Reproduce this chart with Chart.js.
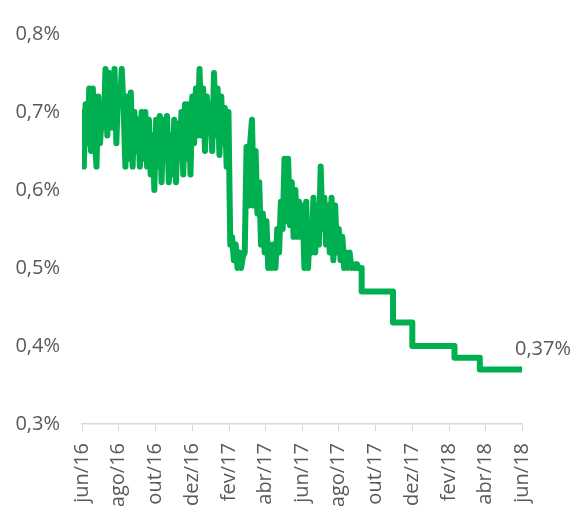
<!DOCTYPE html>
<html>
<head>
<meta charset="utf-8">
<script src="https://cdn.jsdelivr.net/npm/chart.js@4.4.1/dist/chart.umd.min.js"></script>
<style>
  html, body { margin: 0; padding: 0; background: #fff; overflow: hidden; }
</style>
</head>
<body>
<canvas id="grafico" width="575" height="506"></canvas>
<script>
// taxa diária (a cada 3 dias corridos) de jun/16 até set/17
const inicio = '2016-06-01';
const passoDias = 3;
const taxasDiarias = [
  0.70, 0.63, 0.71, 0.66, 0.73,
  0.65, 0.73, 0.67, 0.63, 0.72,
  0.66, 0.70, 0.68, 0.755, 0.67,
  0.75, 0.68, 0.70, 0.755, 0.66,
  0.73, 0.71, 0.755, 0.705, 0.63,
  0.72, 0.64, 0.725, 0.63, 0.70,
  0.65, 0.69, 0.63, 0.70, 0.64,
  0.70, 0.63, 0.69, 0.62, 0.67,
  0.60, 0.69, 0.63, 0.695, 0.61,
  0.69, 0.64, 0.695, 0.61, 0.67,
  0.62, 0.69, 0.61, 0.685, 0.64,
  0.70, 0.62, 0.71, 0.64, 0.71,
  0.62, 0.72, 0.66, 0.73, 0.67,
  0.755, 0.67, 0.73, 0.65, 0.72,
  0.68, 0.71, 0.65, 0.75, 0.67,
  0.73, 0.645, 0.72, 0.66, 0.705,
  0.63, 0.70, 0.53, 0.54, 0.51,
  0.53, 0.50, 0.52, 0.50, 0.515,
  0.52, 0.655, 0.58, 0.66, 0.69,
  0.58, 0.65, 0.57, 0.61, 0.53,
  0.57, 0.52, 0.56, 0.50, 0.53,
  0.50, 0.53, 0.50, 0.55, 0.52,
  0.585, 0.55, 0.64, 0.56, 0.64,
  0.555, 0.61, 0.54, 0.60, 0.54,
  0.585, 0.54, 0.58, 0.50, 0.585,
  0.50, 0.55, 0.52, 0.59, 0.52,
  0.58, 0.53, 0.63, 0.55, 0.59,
  0.53, 0.58, 0.52, 0.59, 0.51,
  0.58, 0.52, 0.55, 0.51, 0.54,
  0.50, 0.52, 0.50, 0.52, 0.50,
  0.505, 0.50, 0.505, 0.50
];

// degraus a partir de set/17
const datasDegraus = ['2017-09-08', '2017-10-30', '2017-12-01', '2018-02-09', '2018-03-23', '2018-06-01'];
const taxasDegraus = [0.47, 0.43, 0.40, 0.385, 0.37, 0.37];

// eixo x
const datasRotulos = ['2016-06-01', '2016-08-01', '2016-10-01', '2016-12-01', '2017-02-01', '2017-04-01',
  '2017-06-01', '2017-08-01', '2017-10-01', '2017-12-01', '2018-02-01', '2018-04-01', '2018-06-01'];
const rotulosX = ['jun/16', 'ago/16', 'out/16', 'dez/16', 'fev/17', 'abr/17',
  'jun/17', 'ago/17', 'out/17', 'dez/17', 'fev/18', 'abr/18', 'jun/18'];

const dia = (s) => (Date.parse(s) - Date.parse(inicio)) / 864e5;
const pct = (v, casas) => v.toFixed(casas).replace('.', ',') + '%';

const pontosDiarios = taxasDiarias.map((v, i) => ({ x: i * passoDias, y: v }));
// o trecho em degraus começa no último ponto diário para a linha ficar contínua
const pontosDegraus = [pontosDiarios[pontosDiarios.length - 1]]
  .concat(datasDegraus.map((d, i) => ({ x: dia(d), y: taxasDegraus[i] })));
const diasRotulos = datasRotulos.map(dia);

const verde = '#00b050';
const cinza = '#595959';
const fonte = { family: '"Open Sans", sans-serif', size: 20 };

const linha = {
  borderColor: verde,
  borderWidth: 6,
  borderJoinStyle: 'round',
  borderCapStyle: 'round',
  pointRadius: 0,
  fill: false
};

const rotuloFinal = {
  id: 'rotuloFinal',
  afterDatasetsDraw(chart) {
    const meta = chart.getDatasetMeta(1);
    const pt = meta.data[meta.data.length - 1];
    const ctx = chart.ctx;
    ctx.save();
    ctx.font = '20px "Open Sans", sans-serif';
    ctx.fillStyle = cinza;
    ctx.textAlign = 'left';
    ctx.textBaseline = 'alphabetic';
    ctx.fillText(pct(taxasDegraus[taxasDegraus.length - 1], 2), pt.x - 7, pt.y - 14);
    ctx.restore();
  }
};

new Chart(document.getElementById('grafico'), {
  type: 'line',
  data: {
    datasets: [
      { ...linha, data: pontosDiarios },
      { ...linha, data: pontosDegraus, stepped: true }
    ]
  },
  options: {
    responsive: false,
    animation: false,
    layout: { padding: { top: 24, right: 53, bottom: 0, left: 0 } },
    plugins: {
      legend: { display: false },
      tooltip: { enabled: false }
    },
    scales: {
      x: {
        type: 'linear',
        min: 0,
        max: diasRotulos[diasRotulos.length - 1],
        afterBuildTicks: (scale) => {
          scale.ticks = diasRotulos.map((v) => ({ value: v }));
        },
        afterFit: (scale) => { scale.height = 82; },
        ticks: {
          autoSkip: false,
          minRotation: 90,
          maxRotation: 90,
          padding: 12,
          color: cinza,
          font: fonte,
          callback: (v, i) => rotulosX[i]
        },
        grid: {
          drawOnChartArea: false,
          drawTicks: true,
          tickLength: 7,
          color: '#d9d9d9'
        },
        border: { display: true, color: '#d9d9d9', width: 1.5 }
      },
      y: {
        min: 0.3,
        max: 0.8,
        afterFit: (scale) => { scale.width = 82; },
        ticks: {
          stepSize: 0.1,
          padding: 22,
          color: cinza,
          font: fonte,
          callback: (v) => pct(v, 1)
        },
        grid: { display: false, drawTicks: false },
        border: { display: false }
      }
    }
  },
  plugins: [rotuloFinal]
});
</script>
</body>
</html>
